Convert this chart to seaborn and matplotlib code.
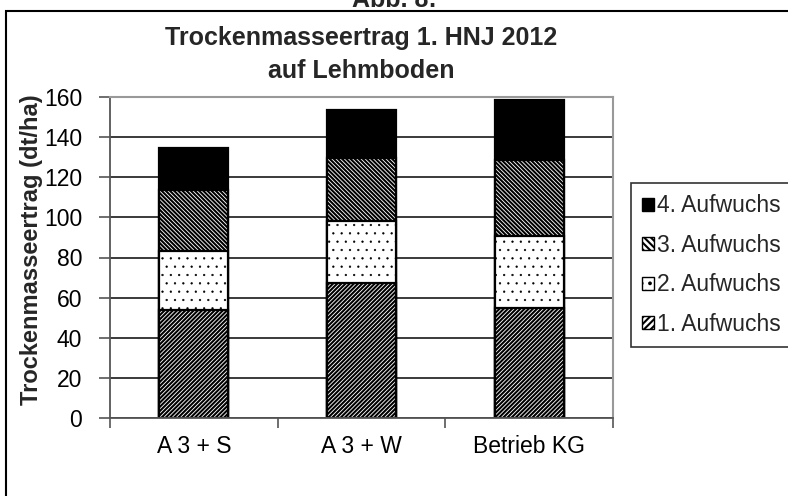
import matplotlib
matplotlib.use("Agg")
import matplotlib.pyplot as plt
import matplotlib.patches as mpatches
import seaborn as sns
import pandas as pd
import numpy as np

categories = ["A 3 + S", "A 3 + W", "Betrieb KG"]
aufwuchs_1 = [54.0, 67.5, 55.0]
aufwuchs_2 = [29.0, 30.5, 35.5]
aufwuchs_3 = [30.5, 31.5, 38.0]
aufwuchs_4 = [21.0, 24.0, 30.0]
series_names = ["1. Aufwuchs", "2. Aufwuchs", "3. Aufwuchs", "4. Aufwuchs"]
yticks = [0, 20, 40, 60, 80, 100, 120, 140, 160]

sns.set_theme(style="white")
plt.rcParams["font.family"] = ["Liberation Sans", "DejaVu Sans"]
plt.rcParams["hatch.color"] = "black"

fig = plt.figure(figsize=(7.88, 4.96), dpi=100)
ax = fig.add_axes([110/788, 1-418/496, (613-110)/788, (418-97)/496])

series = [aufwuchs_1, aufwuchs_2, aufwuchs_3, aufwuchs_4]
cum = np.cumsum(np.array(series), axis=0)
styles = [
    dict(facecolor="white", hatch="////////", hlw=1.5),
    dict(facecolor="white", hatch="..", hlw=0.4),
    dict(facecolor="white", hatch="\\\\\\\\\\\\\\\\", hlw=1.5),
    dict(facecolor="black", hatch=None, hlw=1.0),
]


def apply_style(p, st):
    p.set_facecolor(st["facecolor"])
    p.set_edgecolor("black")
    if st["hatch"]:
        p.set_hatch(st["hatch"])
        if hasattr(p, "set_hatch_linewidth"):
            p.set_hatch_linewidth(st["hlw"])


handles = {}
for i in range(3, -1, -1):
    plt.rcParams["hatch.linewidth"] = styles[i]["hlw"]
    df = pd.DataFrame({"cat": categories, "val": cum[i]})
    n_before = len(ax.patches)
    sns.barplot(data=df, x="cat", y="val", ax=ax, width=0.41,
                color=styles[i]["facecolor"], edgecolor="black",
                linewidth=1.6, saturation=1)
    for p in ax.patches[n_before:]:
        apply_style(p, styles[i])
    h = mpatches.Patch(facecolor=styles[i]["facecolor"], edgecolor="black",
                       linewidth=1.0, label=series_names[i])
    if styles[i]["hatch"]:
        h.set_hatch(styles[i]["hatch"].replace("////////", "/////").replace("\\\\\\\\\\\\\\\\", "\\\\\\\\\\"))
    handles[i] = h

ax.set_ylim(0, 160)
ax.set_xlim(-0.5, 2.5)
ax.set_yticks(yticks)
ax.set_yticklabels([str(t) for t in yticks])
ax.yaxis.grid(True, color="#3a3a3a", linewidth=1.4)
ax.set_axisbelow(True)
ax.set_xlabel("")
ax.set_ylabel("Trockenmasseertrag (dt/ha)", fontsize=17, fontweight="bold")
ax.yaxis.set_label_coords(-0.134, 0.525)

ax.tick_params(axis="y", which="major", left=True, length=8, width=1.2, color="#555555",
               labelsize=16.5, labelcolor="black", pad=12)
ax.tick_params(axis="x", which="major", bottom=False, length=0, labelsize=16.5,
               labelcolor="black", pad=12)
ax.set_xticks([-0.5, 0.5, 1.5, 2.5], minor=True)
ax.tick_params(axis="x", which="minor", bottom=True, length=7, width=1.2, color="#555555")

for side in ["top", "right"]:
    ax.spines[side].set_visible(True)
    ax.spines[side].set_color("#999999")
    ax.spines[side].set_linewidth(1.5)
ax.spines["left"].set_color("#555555")
ax.spines["left"].set_linewidth(1.3)
ax.spines["bottom"].set_color("#555555")
ax.spines["bottom"].set_linewidth(1.3)

ax.set_title("Trockenmasseertrag 1. HNJ 2012\nauf Lehmboden", fontsize=18,
             fontweight="bold", pad=14, linespacing=1.45)

leg = fig.legend(handles=[handles[3], handles[2], handles[1], handles[0]],
                 loc="upper left", bbox_to_anchor=(631/788, 1-183/496),
                 fontsize=16.5, frameon=True, fancybox=False, edgecolor="black",
                 handlelength=0.5, handleheight=0.5, handletextpad=0.15,
                 labelspacing=0.72, borderpad=0.5, borderaxespad=0)
leg.get_frame().set_linewidth(1.2)

# outer frame and clipped caption
fig.patches.append(mpatches.Rectangle((6/788, -0.5), 2.0, 0.5 + 1 - 11/496,
                                      transform=fig.transFigure, fill=False,
                                      edgecolor="black", linewidth=1.5))
fig.text(0.5, 1 - 7/496, "Abb. 8:", ha="center", va="baseline",
         fontsize=18, fontweight="bold")

fig.savefig("out.png", dpi=100)
